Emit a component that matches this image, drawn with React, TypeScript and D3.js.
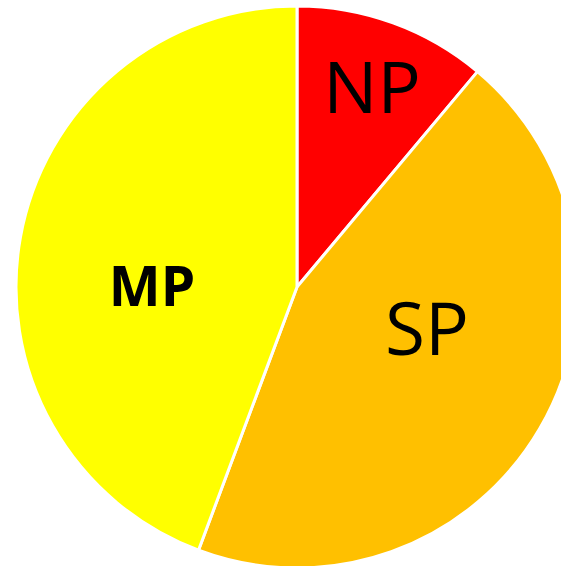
import { useEffect, useRef } from "react";
import * as d3 from "d3";

const categories = ["NP", "SP", "MP"];
const values = [11.1, 44.6, 44.3];
const colors = ["#FF0000", "#FFC000", "#FFFF00"];

// label placement: polar offset from centre (degrees clockwise from top, radius)
const labelPolar = [
  { angle: 20.4, r: 215, size: 72, weight: 400 },
  { angle: 107, r: 136, size: 73, weight: 400 },
  { angle: 271, r: 145, size: 55, weight: 700 },
];

const W = 561;
const H = 566;
const CX = 297;
const CY = 287;
const R = 281;

export default function App() {
  const svgRef = useRef<SVGSVGElement>(null);

  useEffect(() => {
    document.body.style.margin = "0";
    const svgEl = svgRef.current;
    if (!svgEl) return;
    const svg = d3.select(svgEl);
    svg.selectAll("*").remove();

    const pie = d3
      .pie<number>()
      .sort(null)
      .value((d) => d);
    const arcs = pie(values);
    const arc = d3.arc<d3.PieArcDatum<number>>().innerRadius(0).outerRadius(R);

    const g = svg.append("g").attr("transform", `translate(${CX},${CY})`);

    g.selectAll("path")
      .data(arcs)
      .enter()
      .append("path")
      .attr("d", arc)
      .attr("fill", (_, i) => colors[i])
      .attr("stroke", "#fff")
      .attr("stroke-width", 3)
      .attr("stroke-linejoin", "round");

    g.selectAll("text")
      .data(arcs)
      .enter()
      .append("text")
      .attr("x", (_, i) => {
        const a = (labelPolar[i].angle * Math.PI) / 180;
        return Math.sin(a) * labelPolar[i].r;
      })
      .attr("y", (_, i) => {
        const a = (labelPolar[i].angle * Math.PI) / 180;
        return -Math.cos(a) * labelPolar[i].r;
      })
      .attr("text-anchor", "middle")
      .attr("dominant-baseline", "central")
      .attr("font-family", "'Open Sans', Lato, sans-serif")
      .attr("font-size", (_, i) => labelPolar[i].size)
      .attr("font-weight", (_, i) => labelPolar[i].weight)
      .attr("fill", "#000")
      .text((_, i) => categories[i]);
  }, []);

  return (
    <svg
      ref={svgRef}
      width={W}
      height={H}
      style={{ display: "block", background: "#fff" }}
    />
  );
}
